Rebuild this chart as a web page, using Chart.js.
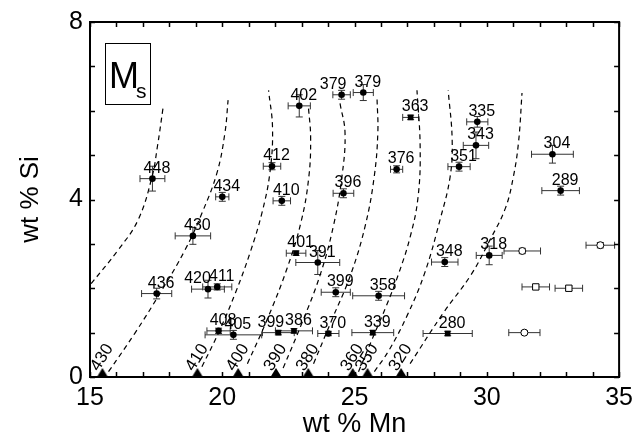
<!DOCTYPE html>
<html>
<head>
<meta charset="utf-8">
<script src="https://cdn.jsdelivr.net/npm/chart.js@4.4.1/dist/chart.umd.min.js"></script>
<style>
    html, body { margin: 0; padding: 0; background: #fff; }
</style>
</head>
<body>
<canvas id="msGraph" width="639" height="446"></canvas>
<script>
// Ms temperature (label) of each alloy vs composition, wt % Mn / wt % Si

// filled symbols, with label
var msLabel = [448, 434, 412, 410, 402, 379, 379, 363, 376, 396, 351, 335, 343, 304, 289, 318,
               430, 436, 420, 411, 408, 405, 399, 386, 370, 339, 280, 401, 391, 399, 358, 348];
var mnVal  = [17.36, 20.0, 21.88, 22.25, 22.91, 24.51, 25.33, 27.12, 26.59, 24.58, 28.95, 29.64, 29.59, 32.48, 32.79, 30.09,
              18.89, 17.52, 19.46, 19.81, 19.86, 20.42, 22.12, 22.71, 24.01, 25.69, 28.52, 22.79, 23.61, 24.29, 25.91, 28.41];
var siVal  = [4.47, 4.06, 4.75, 3.97, 6.11, 6.36, 6.41, 5.85, 4.68, 4.14, 4.74, 5.75, 5.22, 5.02, 4.2, 2.74,
              3.18, 1.88, 1.98, 2.03, 1.04, 0.95, 1.0, 1.04, 0.98, 1.0, 0.98, 2.79, 2.58, 1.91, 1.83, 2.59];
var mnErr  = [0.47, 0.25, 0.33, 0.33, 0.42, 0.33, 0.38, 0.3, 0.23, 0.39, 0.42, 0.4, 0.48, 0.79, 0.71, 0.49,
              0.67, 0.57, 0.62, 0.55, 0.44, 1.07, 0.6, 0.7, 0.4, 0.79, 0.93, 0.37, 0.83, 0.55, 0.98, 0.5];
var siErr  = [0.28, 0.1, 0.08, 0.1, 0.25, 0.1, 0.18, 0.05, 0.08, 0.1, 0.1, 0.12, 0.3, 0.2, 0.1, 0.21,
              0.19, 0.12, 0.2, 0.07, 0.06, 0.1, 0.05, 0.05, 0.05, 0.05, 0.05, 0.05, 0.27, 0.1, 0.1, 0.1];
var symbol = ['c','c','c','c','c','c','c','s','c','c','c','c','c','c','c','c',
              'c','c','c','c','c','c','s','s','c','s','s','s','c','c','c','c'];

// open symbols, no label
var mnOpen    = [31.34, 34.29, 31.42, 31.85, 33.1];
var siOpen    = [2.84, 2.97, 1.0, 2.03, 2.0];
var mnOpenErr = [0.69, 0.54, 0.59, 0.52, 0.52];
var siOpenErr = [0.06, 0.06, 0.04, 0.05, 0.05];
var symbolOpen = ['c','c','c','s','s'];

// iso-Ms lines : value and where they meet Si = 0
var isoMs     = [430, 410, 400, 390, 380, 360, 350, 320];
var isoMnZero = [15.47, 19.06, 20.6, 22.03, 23.25, 24.93, 25.49, 26.76];

// dashed curves, [wt % Mn, wt % Si]
var curveLeft = [[14.62,1.78],[15.0,2.07],[16.06,2.86],[16.81,3.53],[17.34,4.5],[17.55,5.2],[17.76,6.06]];
var curve430 = [[15.7,0.12],[16.7,0.99],[17.72,1.96],[18.59,2.86],[19.23,3.69],[19.8,4.6],[20.1,5.5],[20.22,6.24]];
var curve410 = [[19.23,0.23],[19.9,1.05],[20.5,1.9],[21.05,2.8],[21.5,3.7],[21.8,4.6],[21.9,5.6],[21.75,6.46]];
var curve400 = [[20.95,0.3],[21.7,1.3],[22.45,2.45],[22.98,3.5],[23.27,4.5],[23.34,5.4],[23.26,6.06]];
var curve390 = [[22.3,0.2],[23.0,1.2],[23.7,2.3],[24.2,3.4],[24.52,4.5],[24.64,5.5],[24.45,6.17]];
var curve380 = [[23.45,0.3],[24.15,1.3],[24.85,2.3],[25.4,3.4],[25.74,4.5],[25.88,5.5],[25.85,6.28]];
var curve360 = [[25.15,0.12],[25.7,0.9],[26.2,1.6],[26.65,2.3],[27.1,3.15],[27.4,4.05],[27.48,5.18],[27.36,6.46]];
var curve350 = [[25.75,0.12],[26.3,0.6],[27.0,1.4],[27.65,2.34],[28.23,3.54],[28.61,4.5],[28.69,5.34],[28.54,6.46]];
var curve320 = [[27.1,0.3],[28.35,1.44],[29.4,2.3],[30.12,3.09],[30.7,3.8],[31.0,4.5],[31.2,5.3],[31.33,6.4]];

var xTickVals = [15, 20, 25, 30, 35];
var yTickVals = [0, 4, 8];

// small label nudges (px) where labels would overlap
var labelNudge = { 5: -13, 18: -15, 22: -12 };

Chart.defaults.font.family = '"Liberation Sans", Arial, Helvetica, sans-serif';
Chart.defaults.color = '#000';

function toXY(arrX, arrY) {
    return arrX.map(function (v, i) { return { x: v, y: arrY[i] }; });
}

// triangle marker drawn in the upper half of its canvas so it sits on the axis
var triCanvas = document.createElement('canvas');
triCanvas.width = 12;
triCanvas.height = 20;
var tctx = triCanvas.getContext('2d');
tctx.fillStyle = '#000';
tctx.beginPath();
tctx.moveTo(6, 1);
tctx.lineTo(11.5, 10);
tctx.lineTo(0.5, 10);
tctx.closePath();
tctx.fill();

var curves = [curveLeft, curve430, curve410, curve400, curve390, curve380, curve360, curve350, curve320];
var curveSets = curves.map(function (c) {
    return {
        data: c.map(function (p) { return { x: p[0], y: p[1] }; }),
        showLine: true,
        borderColor: '#000',
        borderWidth: 1.2,
        borderDash: [5, 4],
        pointRadius: 0,
        tension: 0.4,
        errX: null
    };
});

var filledSet = {
    data: toXY(mnVal, siVal),
    pointStyle: symbol.map(function (s) { return s === 's' ? 'rect' : 'circle'; }),
    pointRadius: symbol.map(function (s) { return s === 's' ? 4 : 3.3; }),
    backgroundColor: '#000',
    borderColor: '#000',
    borderWidth: 0,
    errX: mnErr, errY: siErr, labels: msLabel
};

var openSet = {
    data: toXY(mnOpen, siOpen),
    pointStyle: symbolOpen.map(function (s) { return s === 's' ? 'rect' : 'circle'; }),
    pointRadius: symbolOpen.map(function (s) { return s === 's' ? 4.5 : 3.5; }),
    backgroundColor: '#fff',
    borderColor: '#000',
    borderWidth: 1,
    errX: mnOpenErr, errY: siOpenErr
};

var triSet = {
    data: isoMnZero.map(function (v) { return { x: v, y: 0 }; }),
    pointStyle: triCanvas,
    clip: false,
    isoLabels: isoMs
};

// error bars, under the points
var errorBars = {
    id: 'errorBars',
    beforeDatasetsDraw: function (chart) {
        var c = chart.ctx, xs = chart.scales.x, ys = chart.scales.y;
        c.save();
        c.strokeStyle = '#333';
        c.lineWidth = 1;
        chart.data.datasets.forEach(function (ds) {
            if (!ds.errX) return;
            ds.data.forEach(function (p, i) {
                var px = xs.getPixelForValue(p.x), py = ys.getPixelForValue(p.y);
                var x0 = xs.getPixelForValue(p.x - ds.errX[i]), x1 = xs.getPixelForValue(p.x + ds.errX[i]);
                var y0 = ys.getPixelForValue(p.y - ds.errY[i]), y1 = ys.getPixelForValue(p.y + ds.errY[i]);
                c.beginPath();
                c.moveTo(x0, py); c.lineTo(x1, py);
                c.moveTo(x0, py - 3.5); c.lineTo(x0, py + 3.5);
                c.moveTo(x1, py - 3.5); c.lineTo(x1, py + 3.5);
                c.moveTo(px, y0); c.lineTo(px, y1);
                c.moveTo(px - 3.5, y0); c.lineTo(px + 3.5, y0);
                c.moveTo(px - 3.5, y1); c.lineTo(px + 3.5, y1);
                c.stroke();
            });
        });
        c.restore();
    }
};

// frame, inward ticks, point labels, iso-Ms labels, Ms box
var decorations = {
    id: 'decorations',
    afterDraw: function (chart) {
        var c = chart.ctx, a = chart.chartArea, xs = chart.scales.x, ys = chart.scales.y;
        c.save();
        c.strokeStyle = '#000';
        c.lineWidth = 1.5;
        c.beginPath();
        for (var v = 15; v <= 35; v++) {
            var tx = Math.round(xs.getPixelForValue(v)) + 0.5;
            c.moveTo(tx, a.bottom); c.lineTo(tx, a.bottom - 5);
            c.moveTo(tx, a.top); c.lineTo(tx, a.top + 5);
        }
        for (var w = 0; w <= 8; w++) {
            var ty = Math.round(ys.getPixelForValue(w)) + 0.5;
            c.moveTo(a.left, ty); c.lineTo(a.left + 5, ty);
            c.moveTo(a.right, ty); c.lineTo(a.right - 5, ty);
        }
        c.stroke();
        c.lineWidth = 2;
        c.strokeRect(a.left, a.top, a.right - a.left, a.bottom - a.top);

        // point labels
        c.fillStyle = '#000';
        c.font = '16px "Liberation Sans", Arial, sans-serif';
        c.textAlign = 'center';
        c.textBaseline = 'alphabetic';
        msLabel.forEach(function (lab, i) {
            var px = xs.getPixelForValue(mnVal[i]), py = ys.getPixelForValue(siVal[i]);
            var dx = 4.5 + (labelNudge[i] || 0);
            c.fillText(String(lab), px + dx, py - 6);
        });

        // iso-Ms labels along the bottom axis
        c.font = '17px "Liberation Sans", Arial, sans-serif';
        c.textAlign = 'left';
        isoMs.forEach(function (lab, i) {
            var px = xs.getPixelForValue(isoMnZero[i]), py = ys.getPixelForValue(0);
            c.save();
            c.translate(px - 4, py - 5);
            c.rotate(-58 * Math.PI / 180);
            c.fillText(String(lab), 0, 0);
            c.restore();
        });

        // Ms box
        c.lineWidth = 1;
        c.strokeRect(a.left + 15.5, a.top + 21.5, 45, 61);
        c.font = '36px "Liberation Sans", Arial, sans-serif';
        c.textAlign = 'left';
        c.fillText('M', a.left + 19, a.top + 66);
        c.font = '21px "Liberation Sans", Arial, sans-serif';
        c.fillText('s', a.left + 46, a.top + 76);
        c.restore();
    }
};

var ctx = document.getElementById('msGraph');

var msGraph = new Chart(ctx, {
    type: 'scatter',
    data: { datasets: curveSets.concat([filledSet, openSet, triSet]) },
    options: {
        responsive: false,
        animation: false,
        devicePixelRatio: 1,
        layout: { padding: { top: 22, right: 18, left: 0, bottom: 0 } },
        plugins: { legend: { display: false }, tooltip: { enabled: false } },
        scales: {
            x: {
                type: 'linear', min: 15, max: 35,
                grid: { display: false, drawTicks: false },
                border: { display: false },
                afterBuildTicks: function (s) { s.ticks = xTickVals.map(function (v) { return { value: v }; }); },
                ticks: { font: { size: 25 }, padding: 6, maxRotation: 0 },
                title: { display: true, text: 'wt % Mn', font: { size: 27 }, padding: { top: 0, bottom: 5 } },
                afterFit: function (s) { s.height = 69; }
            },
            y: {
                type: 'linear', min: 0, max: 8,
                grid: { display: false, drawTicks: false },
                border: { display: false },
                afterBuildTicks: function (s) { s.ticks = yTickVals.map(function (v) { return { value: v }; }); },
                ticks: { font: { size: 25 }, padding: 7 },
                title: { display: true, text: 'wt % Si', font: { size: 26 }, padding: { top: 15, bottom: 0 } },
                afterFit: function (s) { s.width = 90; }
            }
        }
    },
    plugins: [errorBars, decorations]
});
</script>
</body>
</html>
